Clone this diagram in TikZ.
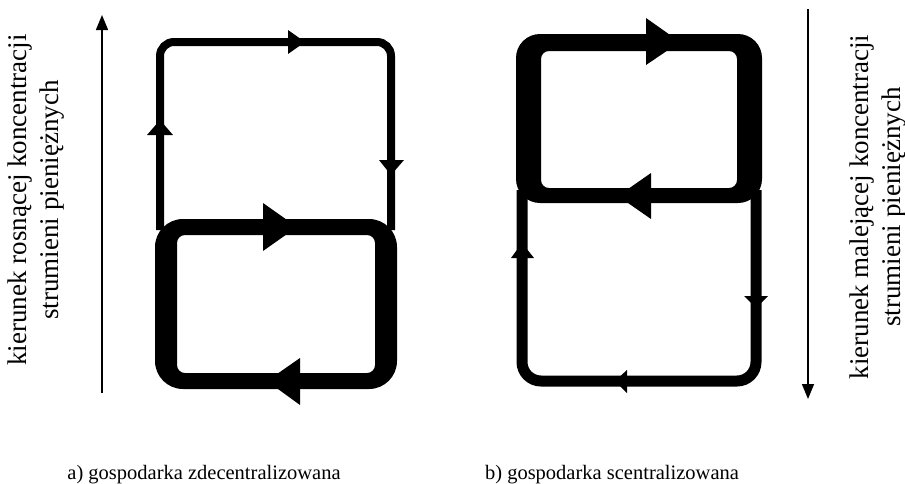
\documentclass[tikz,border=0pt]{standalone}
\usepackage{fontspec}
\setmainfont{Liberation Serif}
\usetikzlibrary{arrows.meta}
\begin{document}
\begin{tikzpicture}[x=1pt,y=-1pt,
  thinloop/.style={line width=8pt,rounded corners=14pt},
  thinloopb/.style={line width=11pt,rounded corners=19pt},
  axis/.style={line width=1.5pt,-{Triangle[length=15pt,width=12pt]}},
  sidelbl/.style={font=\fontsize{27}{32}\selectfont,align=center,inner sep=0pt},
  caplbl/.style={font=\fontsize{20.5}{24}\selectfont,inner sep=0pt},
  headfill/.style={fill=black}]
\useasboundingbox (0,0) rectangle (905,483);
% ---------- (a) ----------
\draw[thinloop] (160,230) -- (160,42) -- (391,42) -- (391,230);
\fill[even odd rule] [rounded corners=28pt] (155,219) rectangle (397,389)
      [rounded corners=8pt] (177,235) rectangle (375,373);
\fill[headfill] (288,30) -- (305,42) -- (288,54) -- cycle;
\fill[headfill] (147,135) -- (160,120) -- (173,135) -- cycle;
\fill[headfill] (379,160) -- (391,175) -- (404,160) -- cycle;
\fill[headfill] (263,203) -- (297,227) -- (263,251) -- cycle;
\fill[headfill] (300,358) -- (267,381) -- (300,405) -- cycle;
% ---------- (b) ----------
\draw[thinloopb] (522,190) -- (522,381) -- (756,381) -- (756,190);
\fill[even odd rule] [rounded corners=24pt] (516,34) rectangle (762,203)
      [rounded corners=8pt] (541,51) rectangle (737,188);
\fill[headfill] (646,18) -- (680,42) -- (646,65) -- cycle;
\fill[headfill] (651,173) -- (618,196) -- (651,219) -- cycle;
\fill[headfill] (511,258) -- (522,243) -- (534,258) -- cycle;
\fill[headfill] (744,296) -- (756,308) -- (768,296) -- cycle;
\fill[headfill] (627,370) -- (615,381) -- (627,393) -- cycle;
% ---------- axes ----------
\coordinate (la0) at (102,393);
\coordinate (la1) at (102,15);
\draw[axis] (la0) -- (la1);
\coordinate (ra0) at (808,9);
\coordinate (ra1) at (808,399);
\draw[axis] (ra0) -- (ra1);
% ---------- labels ----------
\node[sidelbl,rotate=90] (tl) at (36,200) {kierunek rosnącej koncentracji\\strumieni pieniężnych};
\node[sidelbl,rotate=90] (tr) at (878,207) {kierunek malejącej koncentracji\\strumieni pieniężnych};
\node[caplbl,anchor=base] (ca) at (204,479) {a) gospodarka zdecentralizowana};
\node[caplbl,anchor=base] (cb) at (612,479) {b) gospodarka scentralizowana};
\end{tikzpicture}
\end{document}
